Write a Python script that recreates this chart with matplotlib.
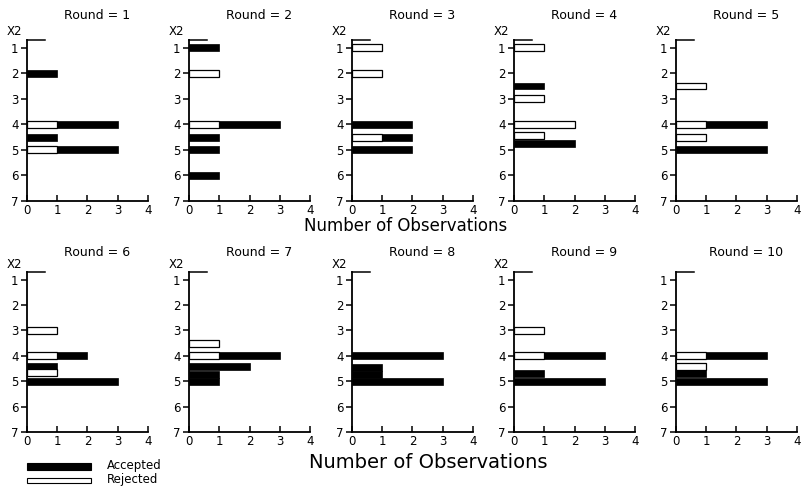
"""Ten small stacked-bar panels: accepted / rejected counts of X2 by round."""

import numpy as np
import matplotlib
matplotlib.use("Agg")
import matplotlib.pyplot as plt
from matplotlib.patches import Rectangle

plt.rcParams["font.family"] = ["DejaVu Sans"]

# ---- data -----------------------------------------------------------------
rounds = [1, 2, 3, 4, 5, 6, 7, 8, 9, 10]
positions = [
    [2, 4, 4.5, 5],
    [1, 2, 4, 4.5, 5, 6],
    [1, 2, 4, 4.5, 5],
    [1, 2.5, 3, 4, 4.45, 4.75],
    [2.5, 4, 4.5, 5],
    [3, 4, 4.4, 4.67, 5],
    [3.5, 4, 4.42, 4.72, 5],
    [4, 4.45, 4.72, 5],
    [3, 4, 4.7, 5],
    [4, 4.42, 4.7, 5],
]
rejected = [
    [0, 1, 0, 1],
    [0, 1, 1, 0, 0, 0],
    [1, 1, 0, 1, 0],
    [1, 0, 1, 2, 1, 0],
    [1, 1, 1, 0],
    [1, 1, 0, 1, 0],
    [1, 1, 0, 0, 0],
    [0, 0, 0, 0],
    [1, 1, 0, 0],
    [1, 1, 0, 0],
]
accepted = [
    [1, 2, 1, 2],
    [1, 0, 2, 1, 1, 1],
    [0, 0, 2, 1, 2],
    [0, 1, 0, 0, 0, 2],
    [0, 2, 0, 3],
    [0, 1, 1, 0, 3],
    [0, 2, 2, 1, 1],
    [3, 1, 1, 3],
    [0, 2, 1, 3],
    [2, 0, 1, 3],
]
y_ticks = [1, 2, 3, 4, 5, 6, 7]
x_ticks = [0, 1, 2, 3, 4]

W, H = 804, 487
fig = plt.figure(figsize=(W / 100, H / 100), dpi=100)

lefts = [27, 189, 352, 514, 676]
row_top = [40, 272]      # pixel of y = 0.7
row_bot = [201, 432]     # pixel of x-axis
ax_w = 121
bar_h = 0.27

for k, rnd in enumerate(rounds):
    r, c = divmod(k, 5)
    ax = fig.add_axes([lefts[c] / W, 1 - row_bot[r] / H,
                       ax_w / W, (row_bot[r] - row_top[r]) / H])
    pos = np.array(positions[k], dtype=float)
    rej = np.array(rejected[k], dtype=float)
    acc = np.array(accepted[k], dtype=float)
    m = rej > 0
    ax.barh(pos[m], rej[m], height=bar_h, color="white",
            edgecolor="black", linewidth=0.9, zorder=3)
    m = acc > 0
    ax.barh(pos[m], acc[m], left=rej[m], height=bar_h, color="black",
            edgecolor="black", linewidth=0.5, zorder=3)

    ax.set_xlim(0, 4)
    ax.set_ylim(7, 0.7)
    ax.set_xticks(x_ticks)
    ax.set_yticks(y_ticks)
    ax.tick_params(axis="x", direction="in", length=4, width=1.1,
                   labelsize=8.5, pad=2)
    ax.tick_params(axis="y", direction="out", length=4, width=1.1,
                   labelsize=8.5, pad=2)
    for s in ("top", "right"):
        ax.spines[s].set_visible(False)
    for s in ("left", "bottom"):
        ax.spines[s].set_linewidth(1.3)
    # short cap at the top of the y axis
    ax.plot([0, 0.6], [0.7, 0.7], color="black", lw=1.1, clip_on=False)

    ax.text(0.58, 1.15 if r == 0 else 1.12, f"Round = {rnd}",
            transform=ax.transAxes, ha="center", va="center", fontsize=9)
    if rnd != 10:
        ax.text(-0.1, 1.05, "X2", transform=ax.transAxes,
                ha="center", va="center", fontsize=8.5)

fig.text(406 / W, 1 - 226 / H, "Number of Observations",
         ha="center", va="center", fontsize=12)
fig.text(428 / W, 1 - 463 / H, "Number of Observations",
         ha="center", va="center", fontsize=14)

# legend
fig.add_artist(Rectangle((27 / W, 1 - 470 / H), 64 / W, 7 / H,
                         transform=fig.transFigure, facecolor="black",
                         edgecolor="black", lw=0.8))
fig.add_artist(Rectangle((27 / W, 1 - 483 / H), 64 / W, 5 / H,
                         transform=fig.transFigure, facecolor="white",
                         edgecolor="black", lw=0.8))
fig.text(107 / W, 1 - 466 / H, "Accepted", ha="left", va="center", fontsize=8.5)
fig.text(107 / W, 1 - 479 / H, "Rejected", ha="left", va="center", fontsize=8.5)

fig.savefig("out.png", dpi=100)
